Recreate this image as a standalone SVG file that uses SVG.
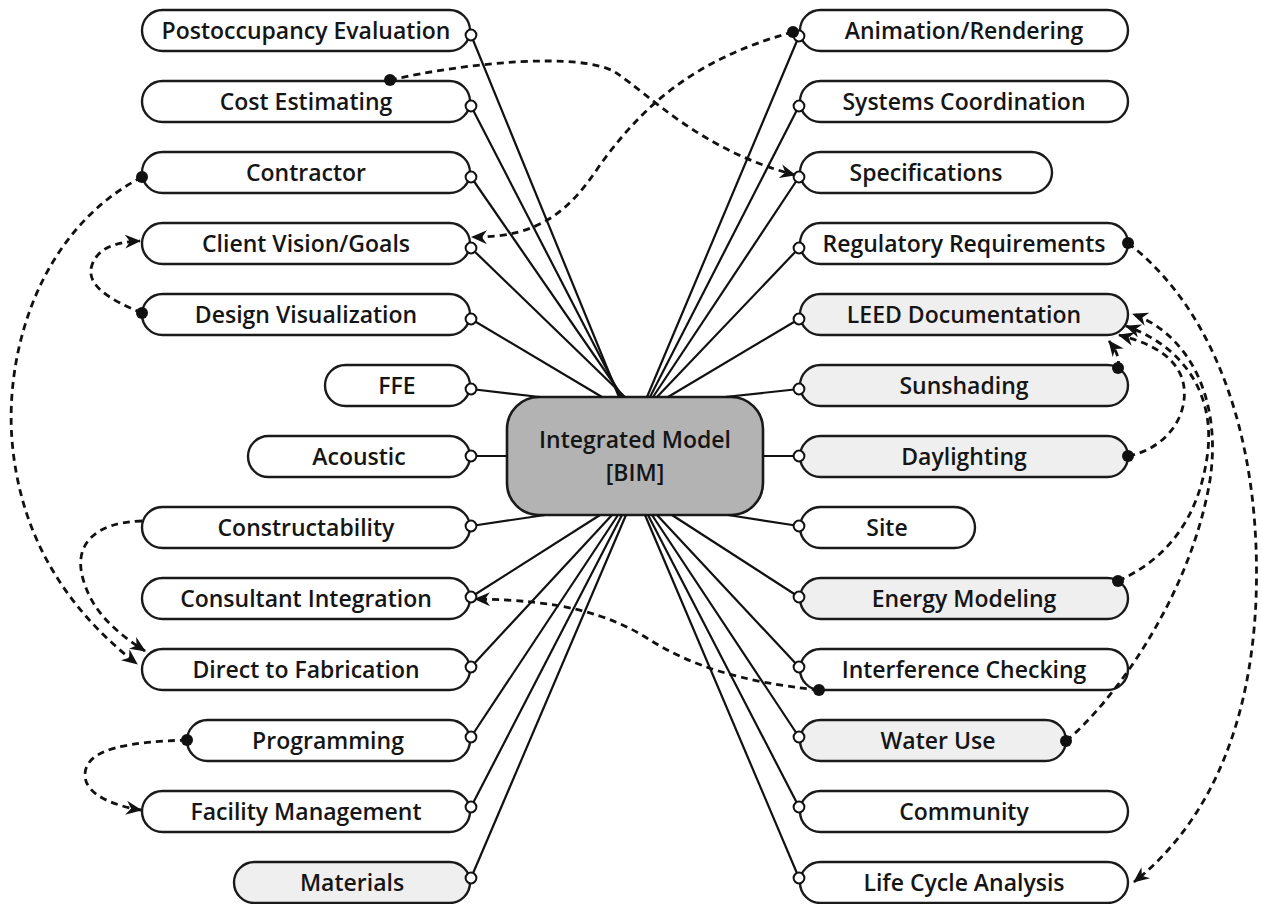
<svg xmlns="http://www.w3.org/2000/svg" width="1262" height="904" viewBox="0 0 1262 904">
  <style>
    .node rect { fill: #fff; stroke: #1a1a1a; stroke-width: 2.4; }
    .node.alt rect { fill: #efefef; }
    .hub rect { fill: #b3b3b3; stroke: #1a1a1a; stroke-width: 2.6; }
    text { font-family: "Open Sans", "Liberation Sans", sans-serif; font-size: 23px; font-weight: 600; fill: #151515; text-anchor: middle; }
    .link { fill: none; stroke: #111; stroke-width: 2.2; marker-start: url(#port); }
    .flow { fill: none; stroke: #111; stroke-width: 2.8; stroke-dasharray: 7 5; marker-end: url(#arrow); }
    .flow.src { marker-start: url(#dot); }
  </style>
  <defs>
    <marker id="port" viewBox="0 0 16 16" refX="8" refY="8" markerWidth="16" markerHeight="16" markerUnits="userSpaceOnUse">
      <circle cx="8" cy="8" r="5.4" fill="#fff" stroke="#111" stroke-width="2"/>
    </marker>
    <marker id="dot" viewBox="0 0 14 14" refX="7" refY="7" markerWidth="14" markerHeight="14" markerUnits="userSpaceOnUse">
      <circle cx="7" cy="7" r="6" fill="#111"/>
    </marker>
    <marker id="arrow" viewBox="0 0 16 14" refX="15" refY="7" markerWidth="16" markerHeight="14" markerUnits="userSpaceOnUse" orient="auto">
      <path d="M0,0 L16,7 L0,14 L5,7 Z" fill="#111"/>
    </marker>
  </defs>

  <!-- left column -->
  <g id="postoccupancy" class="node"><rect x="142" y="10" width="328" height="41" rx="20.5"/><text x="306" y="39">Postoccupancy Evaluation</text></g>
  <g id="cost-estimating" class="node"><rect x="142" y="81" width="328" height="41" rx="20.5"/><text x="306" y="110">Cost Estimating</text></g>
  <g id="contractor" class="node"><rect x="142" y="152" width="328" height="41" rx="20.5"/><text x="306" y="181">Contractor</text></g>
  <g id="client-vision" class="node"><rect x="142" y="223" width="328" height="41" rx="20.5"/><text x="306" y="252">Client Vision/Goals</text></g>
  <g id="design-visualization" class="node"><rect x="142" y="294" width="328" height="41" rx="20.5"/><text x="306" y="323">Design Visualization</text></g>
  <g id="ffe" class="node"><rect x="325" y="365" width="145" height="41" rx="20.5"/><text x="397" y="394">FFE</text></g>
  <g id="acoustic" class="node"><rect x="248" y="436" width="222" height="41" rx="20.5"/><text x="359" y="465">Acoustic</text></g>
  <g id="constructability" class="node"><rect x="142" y="507" width="328" height="41" rx="20.5"/><text x="306" y="536">Constructability</text></g>
  <g id="consultant-integration" class="node"><rect x="142" y="578" width="328" height="41" rx="20.5"/><text x="306" y="607">Consultant Integration</text></g>
  <g id="direct-to-fabrication" class="node"><rect x="142" y="649" width="328" height="41" rx="20.5"/><text x="306" y="678">Direct to Fabrication</text></g>
  <g id="programming" class="node"><rect x="187" y="720" width="283" height="41" rx="20.5"/><text x="328" y="749">Programming</text></g>
  <g id="facility-management" class="node"><rect x="142" y="791" width="328" height="41" rx="20.5"/><text x="306" y="820">Facility Management</text></g>
  <g id="materials" class="node alt"><rect x="234" y="862" width="236" height="41" rx="20.5"/><text x="352" y="891">Materials</text></g>

  <!-- right column -->
  <g id="animation-rendering" class="node"><rect x="800" y="10" width="328" height="41" rx="20.5"/><text x="964" y="39">Animation/Rendering</text></g>
  <g id="systems-coordination" class="node"><rect x="800" y="81" width="328" height="41" rx="20.5"/><text x="964" y="110">Systems Coordination</text></g>
  <g id="specifications" class="node"><rect x="800" y="152" width="252" height="41" rx="20.5"/><text x="926" y="181">Specifications</text></g>
  <g id="regulatory-requirements" class="node"><rect x="800" y="223" width="328" height="41" rx="20.5"/><text x="964" y="252">Regulatory Requirements</text></g>
  <g id="leed-documentation" class="node alt"><rect x="800" y="294" width="328" height="41" rx="20.5"/><text x="964" y="323">LEED Documentation</text></g>
  <g id="sunshading" class="node alt"><rect x="800" y="365" width="328" height="41" rx="20.5"/><text x="964" y="394">Sunshading</text></g>
  <g id="daylighting" class="node alt"><rect x="800" y="436" width="328" height="41" rx="20.5"/><text x="964" y="465">Daylighting</text></g>
  <g id="site" class="node"><rect x="800" y="507" width="175" height="41" rx="20.5"/><text x="887" y="536">Site</text></g>
  <g id="energy-modeling" class="node alt"><rect x="800" y="578" width="328" height="41" rx="20.5"/><text x="964" y="607">Energy Modeling</text></g>
  <g id="interference-checking" class="node"><rect x="800" y="649" width="328" height="41" rx="20.5"/><text x="964" y="678">Interference Checking</text></g>
  <g id="water-use" class="node alt"><rect x="800" y="720" width="266" height="41" rx="20.5"/><text x="938" y="749">Water Use</text></g>
  <g id="community" class="node"><rect x="800" y="791" width="328" height="41" rx="20.5"/><text x="964" y="820">Community</text></g>
  <g id="life-cycle-analysis" class="node"><rect x="800" y="862" width="328" height="41" rx="20.5"/><text x="964" y="891">Life Cycle Analysis</text></g>

  <!-- central model -->
  <g id="integrated-model" class="hub">
    <rect x="507" y="397" width="256" height="118" rx="32"/>
    <text x="635" y="448">Integrated Model</text>
    <text x="635" y="481">[BIM]</text>
  </g>

  <g id="connectors">
    <!-- spokes: left column to model -->
    <line class="link" x1="471" y1="35" x2="619" y2="397"/>
    <line class="link" x1="471" y1="106" x2="621" y2="397"/>
    <line class="link" x1="471" y1="177" x2="623" y2="397"/>
    <line class="link" x1="471" y1="248" x2="625" y2="397"/>
    <line class="link" x1="471" y1="319" x2="602" y2="397"/>
    <line class="link" x1="471" y1="389" x2="540" y2="397"/>
    <line class="link" x1="471" y1="456" x2="507" y2="456"/>
    <line class="link" x1="471" y1="526" x2="545" y2="515"/>
    <line class="link" x1="471" y1="597" x2="600" y2="515"/>
    <line class="link" x1="471" y1="667" x2="612" y2="515"/>
    <line class="link" x1="471" y1="737" x2="618" y2="515"/>
    <line class="link" x1="471" y1="807" x2="622" y2="515"/>
    <line class="link" x1="471" y1="878" x2="626" y2="515"/>
    <!-- spokes: right column to model -->
    <line class="link" x1="799" y1="36" x2="647" y2="397"/>
    <line class="link" x1="799" y1="106" x2="650" y2="397"/>
    <line class="link" x1="799" y1="177" x2="653" y2="397"/>
    <line class="link" x1="799" y1="248" x2="657" y2="397"/>
    <line class="link" x1="799" y1="319" x2="668" y2="397"/>
    <line class="link" x1="799" y1="389" x2="725" y2="397"/>
    <line class="link" x1="799" y1="456" x2="763" y2="456"/>
    <line class="link" x1="799" y1="526" x2="728" y2="515"/>
    <line class="link" x1="799" y1="597" x2="672" y2="515"/>
    <line class="link" x1="799" y1="667" x2="657" y2="515"/>
    <line class="link" x1="799" y1="737" x2="652" y2="515"/>
    <line class="link" x1="799" y1="807" x2="648" y2="515"/>
    <line class="link" x1="799" y1="878" x2="645" y2="515"/>

    <!-- information flows -->
    <path class="flow src" d="M390,80 C470,62 580,52 615,72 C650,95 700,150 795,175"/>
    <path class="flow src" d="M793,32 C690,60 640,110 600,165 C570,210 540,238 472,237"/>
    <path class="flow src" d="M142,177 C40,230 5,350 12,440 C20,540 70,612 137,664"/>
    <path class="flow" d="M142,521 C95,522 70,545 85,585 C95,615 120,635 145,651"/>
    <path class="flow src" d="M142,313 C110,300 85,285 92,265 C98,248 115,242 140,241"/>
    <path class="flow src" d="M187,740 C130,742 85,748 85,775 C85,795 115,806 141,810"/>
    <path class="flow src" d="M819,690 C740,682 690,665 650,640 C610,614 560,600 475,599"/>
    <path class="flow src" d="M1128,243 C1215,310 1262,440 1256,600 C1250,740 1200,830 1134,882"/>
    <path class="flow src" d="M1118,368 C1120,358 1116,350 1109,341"/>
    <path class="flow src" d="M1128,456 C1170,448 1192,410 1182,378 C1172,352 1145,342 1119,335"/>
    <path class="flow src" d="M1118,581 C1165,560 1200,520 1208,450 C1214,390 1180,345 1126,326"/>
    <path class="flow src" d="M1066,741 C1110,705 1190,600 1210,480 C1222,400 1190,335 1133,314"/>
  </g>
</svg>
